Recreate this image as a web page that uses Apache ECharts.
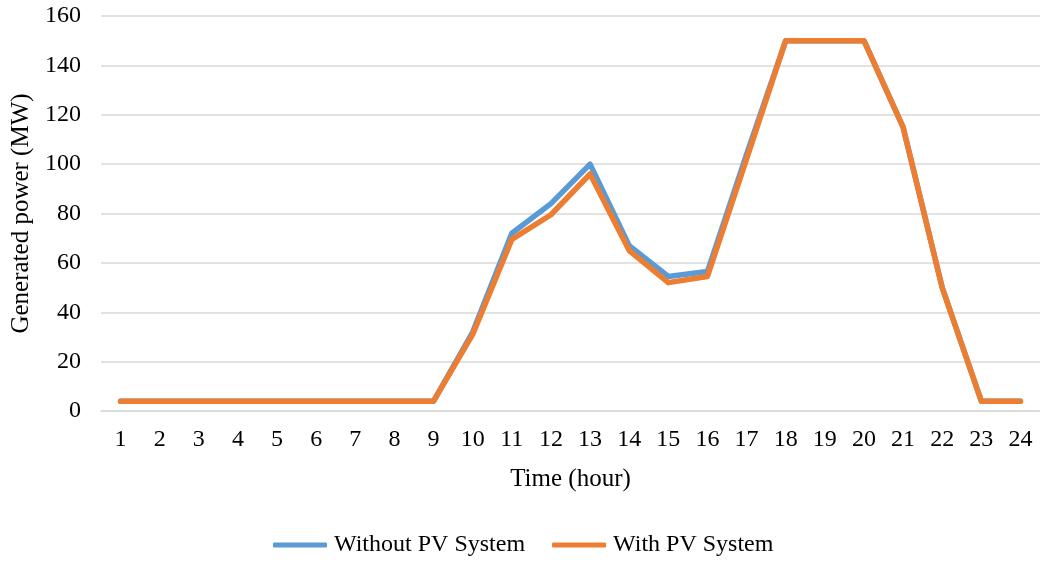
<!DOCTYPE html>
<html><head><meta charset="utf-8">
<script src="https://cdn.jsdelivr.net/npm/echarts@6/dist/echarts.min.js"></script>
<style>html,body{margin:0;padding:0;background:#fff}#c{width:1040px;height:562px}</style>
</head><body><div id="c"></div>
<script>
const hours = ['1','2','3','4','5','6','7','8','9','10','11','12','13','14','15','16','17','18','19','20','21','22','23','24'];
const withoutPV = [4,4,4,4,4,4,4,4,4,32,72,84,100,67,54.5,56.5,104,150,150,150,115,50,4,4];
const withPV = [4,4,4,4,4,4,4,4,4,31,69.5,79.5,96,65,52,54.5,102,150,150,150,115,50,4,4];
const seriesNames = ['Without PV System','With PV System'];
const font = 'Liberation Serif';
const chart = echarts.init(document.getElementById('c'));
chart.setOption({
  animation:false,
  textStyle:{fontFamily:font},
  grid:{left:101,right:0,top:16,bottom:151,containLabel:false},
  legend:{
    bottom:0,left:268,
    data:seriesNames,
    icon:'roundRect',itemWidth:54,itemHeight:5,itemGap:27,
    textStyle:{fontFamily:font,fontSize:24,color:'#000',padding:[0,0,0,2]}
  },
  xAxis:{
    type:'category',data:hours,boundaryGap:true,
    name:'Time (hour)',nameLocation:'middle',nameGap:56,
    nameTextStyle:{fontFamily:font,fontSize:25,color:'#000'},
    axisLine:{show:true,lineStyle:{color:'#D9D9D9',width:1.5}},
    axisTick:{show:false},
    axisLabel:{color:'#000',fontSize:24,fontFamily:font,margin:17}
  },
  yAxis:{
    type:'value',min:0,max:160,interval:20,
    name:'Generated power (MW)',nameLocation:'middle',nameGap:59,
    nameTextStyle:{fontFamily:font,fontSize:25,color:'#000'},
    axisLine:{show:false},axisTick:{show:false},
    axisLabel:{color:'#000',fontSize:24,fontFamily:font,margin:20},
    splitLine:{lineStyle:{color:'#D9D9D9',width:1.5}}
  },
  series:[
    {name:seriesNames[0],type:'line',data:withoutPV,symbol:'none',
     lineStyle:{color:'#5B9BD5',width:5.5,cap:'round',join:'round'},itemStyle:{color:'#5B9BD5'}},
    {name:seriesNames[1],type:'line',data:withPV,symbol:'none',
     lineStyle:{color:'#ED7D31',width:5.5,cap:'round',join:'round'},itemStyle:{color:'#ED7D31'}}
  ]
});
</script></body></html>
